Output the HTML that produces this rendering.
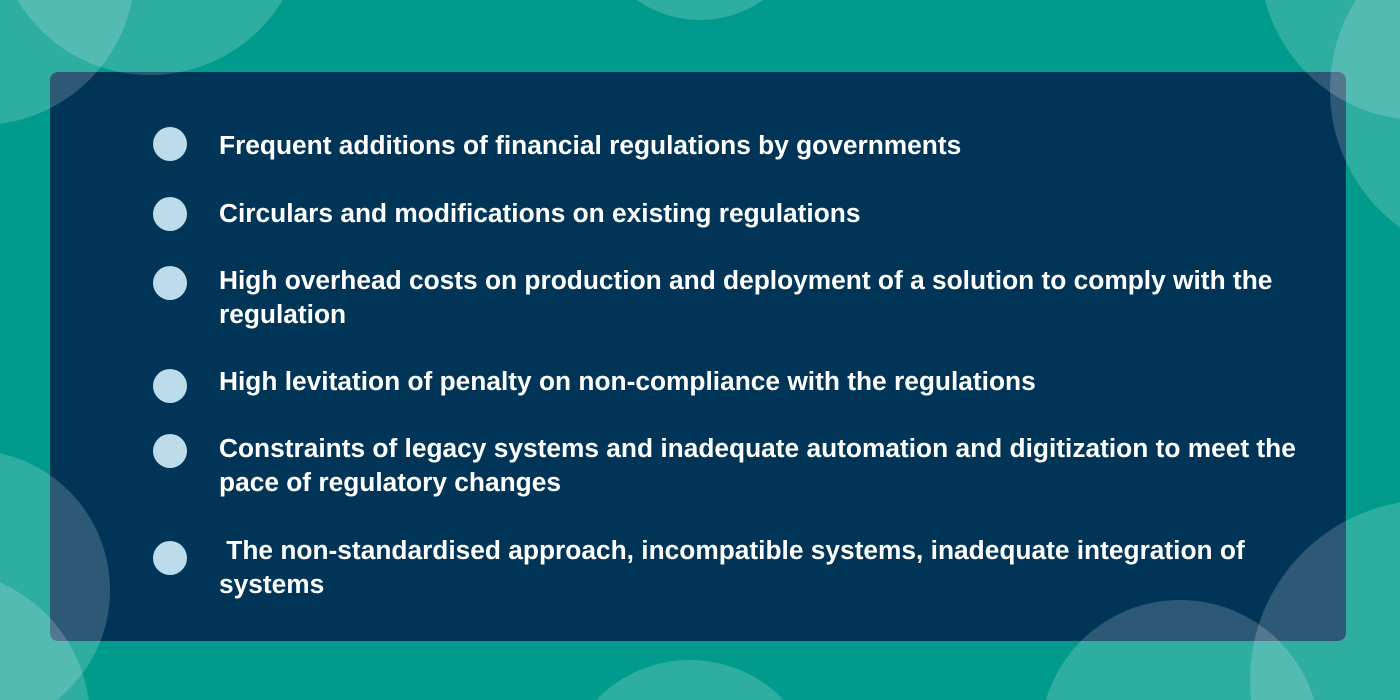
<!DOCTYPE html>
<html><head><meta charset="utf-8"><style>
html,body{margin:0;padding:0;width:1400px;height:700px;overflow:hidden}
body{background:#009b8d;position:relative;font-family:"Liberation Sans",sans-serif}
#panel{position:absolute;left:50px;top:72px;width:1296px;height:569px;background:#003558;border-radius:8px}
.item{position:absolute;left:169px;color:#fff;font-weight:bold;font-size:26.3px;line-height:34px;width:1110px}
.dot{position:absolute;left:-16px;width:34px;height:34px;border-radius:50%;background:#bcdcec}
.txt{position:absolute;left:50px;top:0;white-space:nowrap}
#ov{position:absolute;left:0;top:0;pointer-events:none}
</style></head><body>
<div id="panel"></div>
<div class="item" style="top:128px"><div class="dot" style="top:-1px"></div><div class="txt">Frequent additions of financial regulations by governments</div></div>
<div class="item" style="top:196px"><div class="dot" style="top:1px"></div><div class="txt">Circulars and modifications on existing regulations</div></div>
<div class="item" style="top:263px"><div class="dot" style="top:3px"></div><div class="txt">High overhead costs on production and deployment of a solution to comply with the<br>regulation</div></div>
<div class="item" style="top:364px"><div class="dot" style="top:5px"></div><div class="txt">High levitation of penalty on non-compliance with the regulations</div></div>
<div class="item" style="top:431px"><div class="dot" style="top:3px"></div><div class="txt">Constraints of legacy systems and inadequate automation and digitization to meet the<br>pace of regulatory changes</div></div>
<div class="item" style="top:533px"><div class="dot" style="top:8px"></div><div class="txt">&nbsp;The non-standardised approach, incompatible systems, inadequate integration of<br>systems</div></div>
<svg id="ov" width="1400" height="700">
<g fill="#ffffff" fill-opacity="0.18">
<circle cx="150" cy="-80" r="155"/>
<circle cx="-20" cy="-30" r="155"/>
<circle cx="700" cy="-90" r="110"/>
<circle cx="1420" cy="-40" r="160"/>
<circle cx="1500" cy="90" r="170"/>
<circle cx="-30" cy="590" r="140"/>
<circle cx="-60" cy="720" r="150"/>
<circle cx="690" cy="790" r="130"/>
<circle cx="1180" cy="740" r="140"/>
<circle cx="1430" cy="680" r="180"/>
</g></svg>
</body></html>
